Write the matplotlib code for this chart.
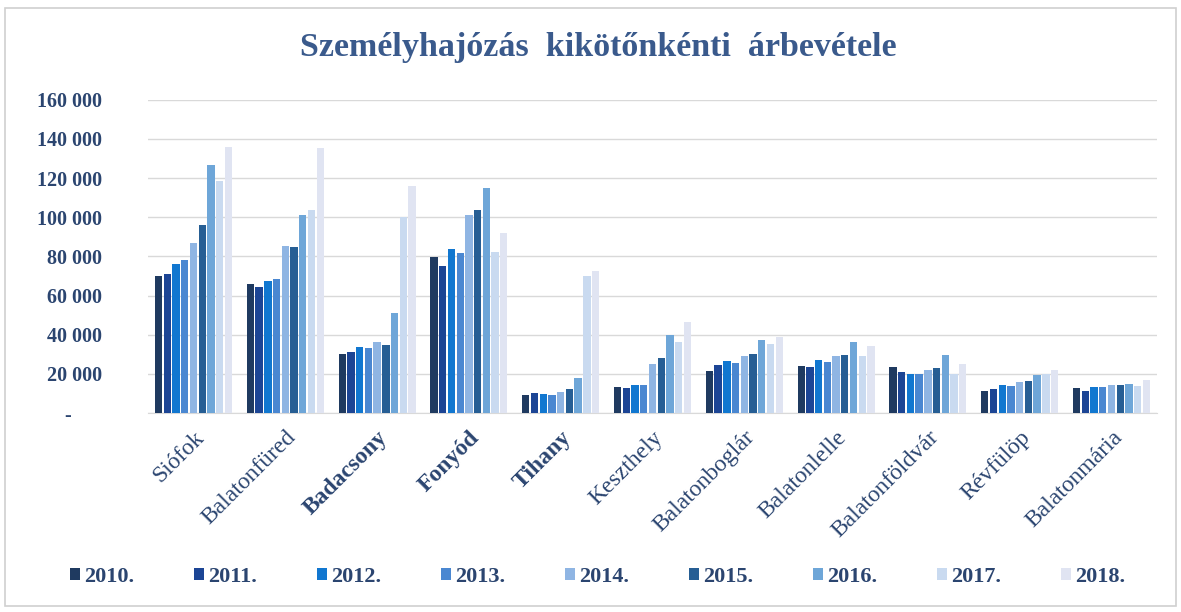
import matplotlib
matplotlib.use("Agg")
import matplotlib.pyplot as plt
import numpy as np
from matplotlib.patches import Rectangle

# ports (x categories)
kikotok = ["Siófok", "Balatonfüred", "Badacsony", "Fonyód", "Tihany", "Keszthely",
           "Balatonboglár", "Balatonlelle", "Balatonföldvár", "Révfülöp", "Balatonmária"]
bold_labels = ["Badacsony", "Fonyód", "Tihany"]

evek = ["2010.", "2011.", "2012.", "2013.", "2014.", "2015.", "2016.", "2017.", "2018."]

# revenue per port, one list per year
y2010 = [70200, 65800, 30300, 79700, 9000, 13500, 21300, 24200, 23700, 11200, 13000]
y2011 = [71100, 64500, 31000, 75300, 10200, 13000, 24500, 23500, 21000, 12300, 11200]
y2012 = [76000, 67500, 33500, 83800, 9500, 14200, 26400, 27300, 20000, 14200, 13200]
y2013 = [78300, 68700, 33200, 81900, 9000, 14600, 25700, 26300, 20000, 14000, 13200]
y2014 = [87100, 85100, 36400, 101200, 11000, 25000, 29300, 29300, 22000, 15700, 14200]
y2015 = [95900, 84800, 35000, 103600, 12500, 27900, 30100, 29600, 22800, 16200, 14300]
y2016 = [126700, 101000, 51300, 115100, 18100, 39900, 37100, 36200, 29700, 19500, 15000]
y2017 = [118600, 103700, 100000, 82100, 70200, 36400, 35200, 29200, 20000, 20000, 13700]
y2018 = [135900, 135400, 115900, 91900, 72400, 46500, 39100, 34200, 25000, 22000, 17000]
ertekek = [y2010, y2011, y2012, y2013, y2014, y2015, y2016, y2017, y2018]

szinek = ["#1F3A60", "#1C4595", "#1177D0", "#4A87D1", "#8FB5E3",
          "#265E94", "#6EA6D8", "#C9DAF0", "#E0E4F2"]

szoveg_szin = "#2B4570"
cim_szin = "#3A5A8C"

fig = plt.figure(figsize=(11.81, 6.12), dpi=100)
ax = fig.add_axes([0.125, 0.325, 0.855, 0.512])

x = np.arange(len(kikotok))
lepes = 0.095
szel = 0.08
for i, (ev, vals) in enumerate(zip(evek, ertekek)):
    ax.bar(x + (i - 4) * lepes, vals, width=szel, color=szinek[i], label=ev, zorder=3)

ax.set_xlim(-0.5, len(kikotok) - 0.5)
ax.set_ylim(0, 160000)
yt = np.arange(0, 160001, 20000)
ax.set_yticks(yt)
ax.set_yticklabels(["-      "] + ["{:,}".format(v).replace(",", " ") for v in yt[1:]],
                   fontfamily="Liberation Serif", fontweight="bold", fontsize=14.5,
                   color=szoveg_szin)
ax.tick_params(axis="y", length=0, pad=33)
ax.grid(axis="y", color="#D9D9D9", lw=1, zorder=0)

ax.set_xticks(x)
ax.set_xticklabels(kikotok, rotation=45, ha="right", rotation_mode="anchor",
                   fontfamily="Liberation Serif", fontsize=17, color=szoveg_szin)
for t in ax.get_xticklabels():
    if t.get_text() in bold_labels:
        t.set_fontweight("bold")
ax.tick_params(axis="x", length=0, pad=10)

for s in ["top", "right", "left"]:
    ax.spines[s].set_visible(False)
ax.spines["bottom"].set_color("#D9D9D9")

fig.text(0.507, 0.922, "Személyhajózás  kikötőnkénti  árbevétele", ha="center", va="center",
         fontfamily="Liberation Serif", fontweight="bold", fontsize=24.5, color=cim_szin)

leg = fig.legend(loc="center", bbox_to_anchor=(0.506, 0.057), ncol=9, frameon=False,
                 prop={"family": "Liberation Serif", "weight": "bold", "size": 16},
                 handlelength=0.45, handleheight=0.45, handletextpad=0.2, columnspacing=2.68)
for t in leg.get_texts():
    t.set_color(szoveg_szin)

fig.patches.append(Rectangle((0.004, 0.01), 0.992, 0.977, transform=fig.transFigure,
                             fill=False, edgecolor="#D0D0D0", lw=1.2))

fig.savefig("out.png", dpi=100)
